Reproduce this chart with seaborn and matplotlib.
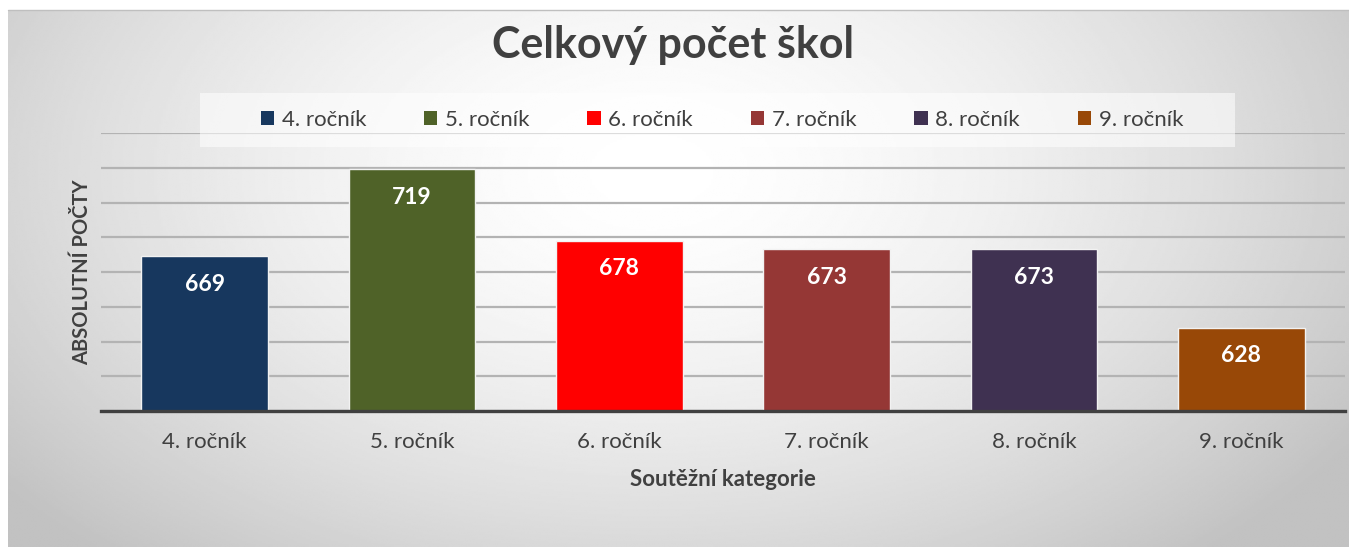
import numpy as np
import matplotlib
matplotlib.use("Agg")
import matplotlib.pyplot as plt
import seaborn as sb
from matplotlib.patches import Patch, Rectangle
from matplotlib.lines import Line2D

grades = ['4. ročník', '5. ročník', '6. ročník', '7. ročník', '8. ročník', '9. ročník']
counts = [669, 719, 678, 673, 673, 628]
colors = ['#17375E', '#4F6228', '#FF0000', '#953735', '#3F3151', '#984807']

title = 'Celkový počet škol'
xlabel = 'Soutěžní kategorie'
ylabel = 'ABSOLUTNÍ POČTY'


def main():
    sb.set_style('white')
    plt.rcParams['font.family'] = ['Lato', 'DejaVu Sans']

    W, H = 1349, 547
    fig = plt.figure(figsize=(W / 100, H / 100), dpi=100)
    fig.patch.set_facecolor('white')

    # radial grey background panel
    bg = fig.add_axes([8 / W, 0, 1 - 8 / W, 1 - 10 / H], zorder=-1)
    yy, xx = np.mgrid[0:1:300j, 0:1:600j]
    r = np.sqrt(((xx - 0.48) / 0.62) ** 2 + ((yy - 0.3) / 0.95) ** 2)
    shade = 1 - 0.24 * np.clip(r, 0, 1) ** 1.6
    bg.imshow(shade, cmap='gray', vmin=0, vmax=1, aspect='auto',
              extent=(0, 1, 1, 0), interpolation='bilinear')
    bg.axis('off')
    fig.add_artist(Line2D([8 / W, 1], [1 - 10 / H, 1 - 10 / H], color='#BFBFBF', lw=1))

    ax = fig.add_axes([101 / W, 1 - 411 / H, 1244 / W, 278 / H], zorder=0)
    ax.patch.set_alpha(0)

    sb.barplot(x=grades, y=counts, hue=grades, palette=colors, saturation=1,
               width=0.61, legend=False, edgecolor='#F2F2F2', linewidth=1, ax=ax)

    ax.set_ylim(580, 740)
    ax.set_xlim(-0.5, 5.5)
    ax.set_yticks(np.arange(580, 741, 20))
    ax.set_yticklabels([])
    ax.yaxis.grid(True, color='#B3B3B3', lw=1.6)
    ax.set_axisbelow(True)
    for side in ['left', 'right', 'top']:
        ax.spines[side].set_visible(False)
    ax.spines['bottom'].set_color('#404040')
    ax.spines['bottom'].set_linewidth(2.4)
    ax.tick_params(axis='both', length=0)
    ax.tick_params(axis='x', pad=15, labelsize=16, labelcolor='#404040')

    for bar in ax.patches:
        ax.annotate('{:d}'.format(int(bar.get_height())),
                    (bar.get_x() + bar.get_width() / 2, bar.get_height()),
                    xytext=(0, -20), textcoords='offset points',
                    ha='center', va='center', color='white',
                    fontweight='bold', fontsize=16.5)

    ax.set_xlabel(xlabel, fontsize=16, fontweight='bold', color='#404040', labelpad=12)
    ax.set_ylabel(ylabel, fontsize=14.5, fontweight='bold', color='#404040', labelpad=3)

    fig.text(673 / W, 1 - 45 / H, title, ha='center', va='center',
             fontsize=31, fontweight='bold', color='#404040')

    box = Rectangle((200 / W, 1 - 147 / H), 1035 / W, 54 / H, transform=fig.transFigure,
                    facecolor='white', alpha=0.55, edgecolor='none', zorder=2)
    fig.add_artist(box)

    handles = [Patch(facecolor=c, edgecolor='none') for c in colors]
    leg = fig.legend(handles, grades, ncol=6, loc='center',
                     bbox_to_anchor=(722 / W, 1 - 120 / H), frameon=False,
                     fontsize=16, handlelength=0.6, handleheight=0.6,
                     handletextpad=0.35, columnspacing=2.6)
    for t in leg.get_texts():
        t.set_color('#404040')
    leg.set_zorder(3)

    fig.savefig('out.png', dpi=100)


if __name__ == '__main__':
    main()
